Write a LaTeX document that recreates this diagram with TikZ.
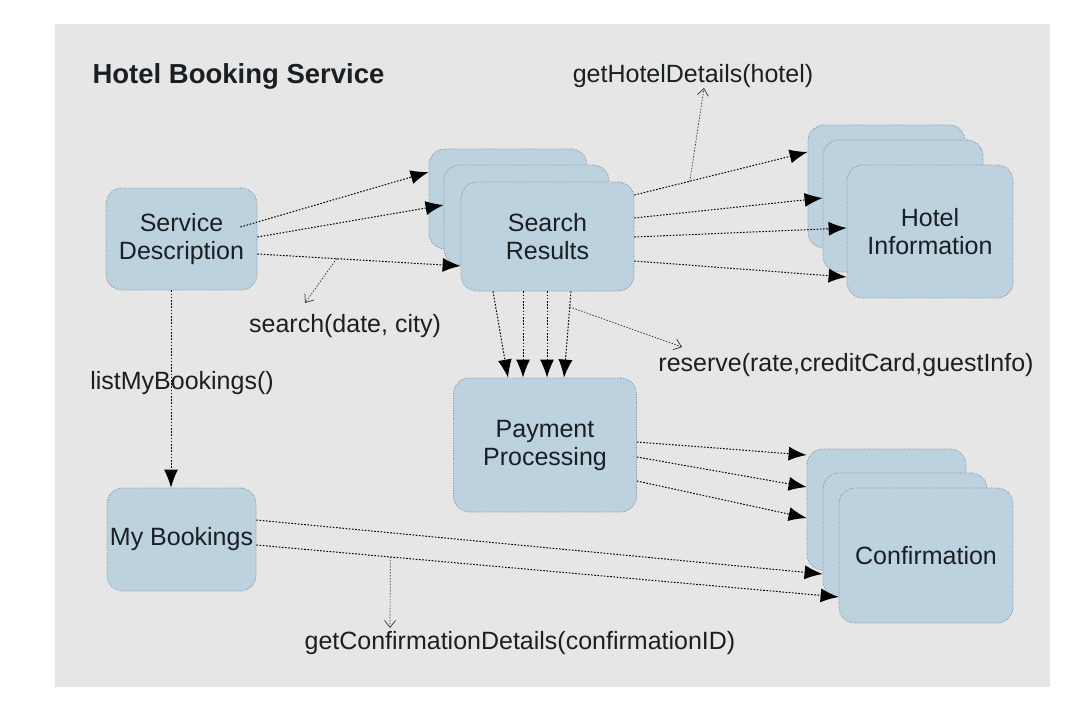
\documentclass[tikz,border=0pt]{standalone}
\usepackage{fontspec}
\setmainfont{Liberation Sans}
\usetikzlibrary{arrows.meta}
\definecolor{panel}{HTML}{E6E6E6}
\definecolor{boxfill}{HTML}{BDD2DF}
\definecolor{boxline}{HTML}{7F8C99}
\definecolor{ink}{HTML}{1A1F24}
\begin{document}
\begin{tikzpicture}[x=1pt, y=-1pt, font=\fontsize{25}{28}\selectfont, text=ink,
  box/.style={draw=boxline, line width=.8pt, dash pattern=on 1pt off 1.5pt,
    fill=boxfill, rounded corners=16pt, align=center, inner sep=0pt},
  sz/.style 2 args={minimum width=#1pt, minimum height=#2pt},
  call/.style={draw=black, line width=1pt, dash pattern=on 1.6pt off 1.6pt,
    -{Latex[length=18pt,width=14pt]}},
  note/.style={draw=black!80, line width=.7pt, dash pattern=on 1.5pt off 1.5pt,
    -{Straight Barb[length=7pt,width=11pt]}}]
  \useasboundingbox (0,0) rectangle (1091,720);
  \fill[panel] (55,24) rectangle (1050,687);
  \node[anchor=west, font=\fontsize{27.5}{32}\selectfont\bfseries] (title) at (89,76) {Hotel Booking Service};

  \node[box, sz={151}{102}] (sd) at (181.5,239) {Service\\Description};
  \node[box, sz={149}{103}] (mb) at (181.5,539.5) {My Bookings};
  \node[box, sz={158}{100}] (sr1) at (508,199) {};
  \node[box, sz={165}{100}] (sr2) at (526.5,215) {};
  \node[box, sz={173}{109}] (sr) at (547.5,236.5) {Search\\Results};
  \node[box, sz={157}{123}] (hi1) at (886.5,186.5) {};
  \node[box, sz={160}{132}] (hi2) at (903,206) {};
  \node[box, sz={166}{133}] (hi) at (930,231.5) {Hotel\\Information};
  \node[box, sz={183}{134}] (pay) at (545,445) {Payment\\Processing};
  \node[box, sz={159}{121}] (cf1) at (886.5,509.5) {};
  \node[box, sz={164}{124}] (cf2) at (905,535) {};
  \node[box, sz={174}{135}] (cf) at (926,555.5) {Confirmation};

  \node (srch) at (345,326) {search(date, city)};
  \node (list) at (182,383) {listMyBookings()};
  \node (hdet) at (693,76) {getHotelDetails(hotel)};
  \node (resv) at (846,365) {reserve(rate,creditCard,guestInfo)};
  \node (cdet) at (520,643) {getConfirmationDetails(confirmationID)};
  \coordinate (srchtip) at (305,303);
  \coordinate (hdettip) at (704,88);
  \coordinate (resvtip) at (682,347);
  \coordinate (cdettip) at (390,628);

  \draw[call] ([shift={(-17,-12)}]sd.east) -- ([shift={(0,-27)}]sr1.west);
  \draw[call] ([shift={(0,-2)}]sd.east) -- ([shift={(0,-10)}]sr2.west);
  \draw[call] ([shift={(0,15)}]sd.east) -- coordinate[pos=.39] (sq) ([shift={(0,29.5)}]sr.west);
  \draw[note] (sq) -- (srchtip);
  \draw[call] ([xshift=-10.5pt]sd.south) -- ([xshift=-10.5pt]mb.north);

  \draw[call] ([shift={(0,-41.5)}]sr.east) -- coordinate[pos=.32] (hq) ([shift={(0,-34.5)}]hi1.west);
  \draw[call] ([shift={(0,-18.5)}]sr.east) -- ([shift={(0,-8)}]hi2.west);
  \draw[call] ([shift={(0,0.5)}]sr.east) -- ([shift={(0,-3.5)}]hi.west);
  \draw[call] ([shift={(0,24.5)}]sr.east) -- ([shift={(0,45.5)}]hi.west);
  \draw[note] (hq) -- (hdettip);

  \draw[call] ([xshift=-54.5pt]sr.south) -- ([xshift=-37pt]pay.north);
  \draw[call] ([xshift=-24.5pt]sr.south) -- ([xshift=-22pt]pay.north);
  \draw[call] ([xshift=-0.5pt]sr.south) -- ([xshift=2pt]pay.north);
  \draw[call] ([xshift=23.5pt]sr.south) -- coordinate[pos=.18] (rq) ([xshift=19pt]pay.north);
  \draw[note] (rq) -- (resvtip);

  \draw[call] ([shift={(0,-3)}]pay.east) -- ([shift={(0,-54.5)}]cf1.west);
  \draw[call] ([shift={(0,12)}]pay.east) -- ([shift={(0,-22.5)}]cf1.west);
  \draw[call] ([shift={(0,36)}]pay.east) -- ([shift={(0,8.5)}]cf1.west);
  \draw[call] ([shift={(0,-19.5)}]mb.east) -- ([shift={(0,39)}]cf2.west);
  \draw[call] ([shift={(0,5.5)}]mb.east) -- coordinate[pos=.23] (cq) ([shift={(0,41.5)}]cf.west);
  \draw[note] (cq) -- (cdettip);
\end{tikzpicture}
\end{document}
